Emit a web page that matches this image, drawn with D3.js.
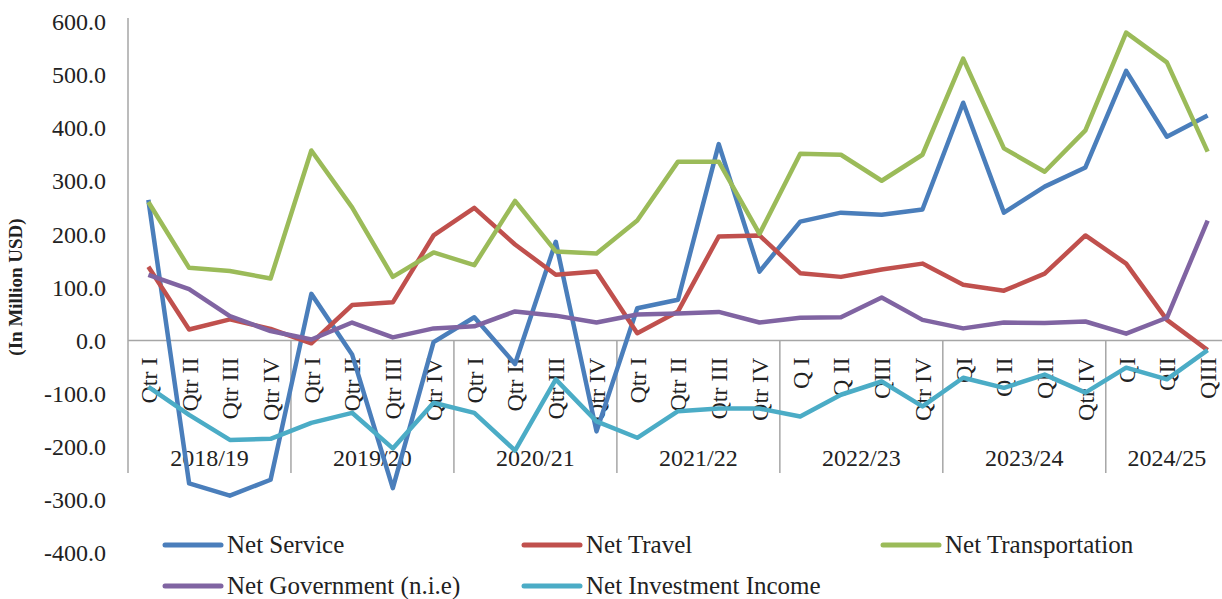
<!DOCTYPE html>
<html>
<head>
<meta charset="utf-8">
<script src="https://cdn.jsdelivr.net/npm/d3@7"></script>
<style>
  body { margin: 0; background: #fff; }
  svg { display: block; font-family: "Liberation Serif", "Times New Roman", serif; }
  .tick-label { font-size: 24px; fill: #222; }
  .legend-label { font-size: 25px; fill: #222; }
</style>
</head>
<body>
<div id="chart"></div>
<script>
const years = ['2018/19', '2019/20', '2020/21', '2021/22', '2022/23', '2023/24', '2024/25'];
const quarterLabels = [
    ['Qtr I', 'Qtr II', 'Qtr III', 'Qtr IV'],
    ['Qtr I', 'Qtr II', 'Qtr III', 'Qtr IV'],
    ['Qtr I', 'Qtr II', 'Qtr III', 'Qtr IV'],
    ['Qtr I', 'Qtr II', 'Qtr III', 'Qtr IV'],
    ['Q I', 'Q II', 'QIII', 'Qtr IV'],
    ['QI', 'Q II', 'QIII', 'Qtr IV'],
    ['QI', 'QII', 'QIII']
];
const yTicks = [600, 500, 400, 300, 200, 100, 0, -100, -200, -300, -400];

const netService = [265, -269, -292, -262, 88, -26, -278, -3, 44, -44, 186, -171, 61, 77, 370, 130,
    224, 241, 237, 247, 448, 241, 290, 326, 508, 384, 424];
const netTravel = [139, 21, 40, 22, -5, 67, 72, 198, 250, 181, 124, 130, 14, 55, 196, 198,
    127, 120, 134, 145, 105, 94, 126, 198, 145, 39, -18];
const netTransportation = [261, 137, 131, 117, 358, 251, 120, 166, 142, 263, 168, 164, 226, 337, 337, 201,
    352, 350, 301, 350, 531, 362, 318, 396, 580, 524, 356];
const netGovernment = [124, 97, 46, 18, 2, 34, 6, 23, 27, 55, 47, 34, 49, 51, 54, 34,
    43, 44, 81, 39, 23, 34, 33, 36, 13, 43, 226];
const netInvestmentIncome = [-87, -140, -187, -185, -155, -136, -203, -117, -136, -207, -73, -152, -183, -133, -128, -128,
    -143, -102, -77, -124, -70, -89, -64, -98, -51, -73, -18];

const seriesNames = ['Net Service', 'Net Travel', 'Net Transportation', 'Net Government (n.i.e)', 'Net Investment Income'];
const seriesValues = [netService, netTravel, netTransportation, netGovernment, netInvestmentIncome];
const colors = ['#4a7ebb', '#c0504d', '#9bbb59', '#8064a2', '#4bacc6'];

const width = 1222, height = 599;
const margin = { left: 128, right: 1228, top: 22, bottom: 553 };
const catBottom = 473;

const categories = [];
years.forEach((yr, yi) => quarterLabels[yi].forEach((q, qi) => categories.push({ key: yr + '|' + qi, year: yr, label: q, qi })));

const svg = d3.select('#chart')
    .append('svg')
    .attr('width', width)
    .attr('height', height);

const x = d3.scaleBand()
    .domain(categories.map(d => d.key))
    .range([margin.left, margin.right])
    .padding(0);
const cx = k => x(k) + x.bandwidth() / 2;

const y = d3.scaleLinear()
    .domain([-400, 600])
    .range([margin.bottom, margin.top]);

// y axis labels
const yAxis = svg.append('g')
    .attr('transform', `translate(${margin.left},0)`)
    .call(d3.axisLeft(y).tickValues(yTicks).tickSize(0).tickPadding(22).tickFormat(d => d.toFixed(1)));
yAxis.select('.domain').remove();
yAxis.attr('font-family', null).attr('font-size', null);
yAxis.selectAll('text')
    .attr('class', 'tick-label')
    .attr('fill', null);

// axis lines
svg.append('line')
    .attr('x1', margin.left).attr('x2', margin.left)
    .attr('y1', margin.top - 4).attr('y2', catBottom)
    .attr('stroke', '#a6a6a6').attr('stroke-width', 1.5);
svg.append('line')
    .attr('x1', margin.left).attr('x2', margin.right)
    .attr('y1', y(0)).attr('y2', y(0))
    .attr('stroke', '#a6a6a6').attr('stroke-width', 1.5);

// group separators
svg.append('g')
    .selectAll('line')
    .data(categories.filter(d => d.qi === 0 && d.key !== categories[0].key))
    .join('line')
    .attr('x1', d => x(d.key)).attr('x2', d => x(d.key))
    .attr('y1', y(0)).attr('y2', catBottom)
    .attr('stroke', '#a6a6a6').attr('stroke-width', 1.5);

// quarter labels
svg.append('g')
    .selectAll('text')
    .data(categories)
    .join('text')
    .attr('class', 'tick-label')
    .attr('transform', d => `translate(${cx(d.key)},${y(0) + 17}) rotate(-90)`)
    .attr('dy', '0.35em')
    .attr('text-anchor', 'end')
    .text(d => d.label);

// year labels
svg.append('g')
    .selectAll('text')
    .data(years)
    .join('text')
    .attr('class', 'tick-label')
    .attr('x', d => {
        const ks = categories.filter(c => c.year === d);
        return (x(ks[0].key) + x(ks[ks.length - 1].key) + x.bandwidth()) / 2;
    })
    .attr('y', 466)
    .attr('text-anchor', 'middle')
    .text(d => d);

// y title
svg.append('text')
    .attr('transform', `translate(22,287) rotate(-90)`)
    .attr('text-anchor', 'middle')
    .attr('font-size', 19)
    .attr('font-weight', 'bold')
    .attr('fill', '#222')
    .text('(In Million USD)');

// lines
const line = d3.line()
    .x((d, i) => cx(categories[i].key))
    .y(d => y(d));

svg.append('g')
    .selectAll('path')
    .data(seriesValues)
    .join('path')
    .attr('d', line)
    .attr('fill', 'none')
    .attr('stroke', (d, i) => colors[i])
    .attr('stroke-width', 4.5)
    .attr('stroke-linejoin', 'round');

// legend
const legend = svg.append('g')
    .selectAll('g')
    .data(seriesNames)
    .join('g')
    .attr('transform', (d, i) => `translate(${165 + (i % 3) * 359},${545 + Math.floor(i / 3) * 41})`);
legend.append('line')
    .attr('x1', 0).attr('x2', 56)
    .attr('stroke', (d, i) => colors[i])
    .attr('stroke-width', 5)
    .attr('stroke-linecap', 'round');
legend.append('text')
    .attr('class', 'legend-label')
    .attr('x', 62)
    .attr('y', 8)
    .text(d => d);
</script>
</body>
</html>
